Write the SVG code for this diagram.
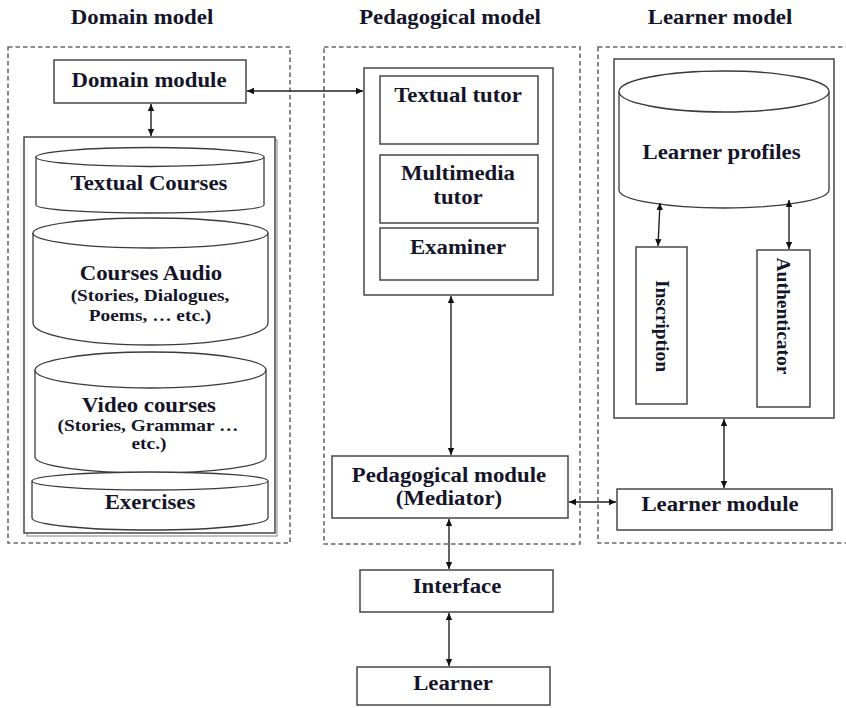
<svg xmlns="http://www.w3.org/2000/svg" width="846" height="708" viewBox="0 0 846 708">
<style>
text{font-family:"Liberation Serif","Times New Roman",serif;font-weight:bold;fill:#15152a;text-anchor:middle}
.t{font-size:20px}
.s{font-size:17px}
.dash{fill:none;stroke:#6a6a6a;stroke-width:1.6;stroke-dasharray:4.5 3}
.box{fill:#fff;stroke:#3a3a3a;stroke-width:1.4}
.cyl{fill:#fff;stroke:#3a3a3a;stroke-width:1.3}
.con{fill:none;stroke:#222;stroke-width:1.4;marker-start:url(#ah);marker-end:url(#ah)}
</style>
<defs>
<marker id="ah" markerWidth="8" markerHeight="8" refX="7" refY="4" orient="auto-start-reverse" markerUnits="userSpaceOnUse">
<path d="M0,0.8 L7,4 L0,7.2 Z" fill="#111"/>
</marker>
</defs>
<rect width="846" height="708" fill="#fff"/>

<g id="titles">
<text class="t" transform="translate(142 24) scale(1.14 1)">Domain model</text>
<text class="t" transform="translate(450 24) scale(1.14 1)">Pedagogical model</text>
<text class="t" transform="translate(720 24) scale(1.14 1)">Learner model</text>
</g>

<g id="domain-model">
<rect class="dash" x="8" y="47" width="282" height="496"/>
</g>
<g id="pedagogical-model">
<rect class="dash" x="324" y="47" width="256" height="497"/>
</g>
<g id="learner-model">
<rect class="dash" x="598" y="47" width="260" height="496"/>
</g>

<g id="domain-module">
<rect class="box" x="54" y="60" width="192" height="43"/>
<text class="t" transform="translate(149 87) scale(1.14 1)">Domain module</text>
</g>

<g id="domain-store">
<rect x="27" y="140" width="250" height="396" fill="none" stroke="#999" stroke-width="1.2"/>
<rect class="box" x="24" y="137" width="251" height="396"/>
</g>

<g id="textual-courses">
<path class="cyl" d="M36,157 A114,9.5 0 0 1 264,157 L264,205 A114,8 0 0 1 36,205 Z"/>
<path class="cyl" d="M36,157 A114,9.5 0 0 0 264,157"/>
<text class="t" transform="translate(149 190) scale(1.14 1)">Textual Courses</text>
</g>

<g id="courses-audio">
<path class="cyl" d="M33,233 A117.5,15 0 0 1 268,233 L268,323 A117.5,22 0 0 1 33,323 Z"/>
<path class="cyl" d="M33,233 A117.5,15 0 0 0 268,233"/>
<text class="t" transform="translate(151 280) scale(1.14 1)">Courses Audio</text>
<text class="s" transform="translate(150 301) scale(1.14 1)">(Stories, Dialogues,</text>
<text class="s" transform="translate(150 321) scale(1.14 1)">Poems, … etc.)</text>
</g>

<g id="video-courses">
<path class="cyl" d="M35,370 A115.5,18 0 0 1 266,370 L266,457 A115.5,16 0 0 1 35,457 Z"/>
<path class="cyl" d="M35,370 A115.5,18 0 0 0 266,370"/>
<text class="t" transform="translate(149 412) scale(1.14 1)">Video courses</text>
<text class="s" transform="translate(148 431) scale(1.14 1)">(Stories, Grammar …</text>
<text class="s" transform="translate(149 449) scale(1.14 1)">etc.)</text>
</g>

<g id="exercises">
<path class="cyl" d="M32,481 A118,9 0 0 1 268,481 L268,518 A118,12 0 0 1 32,518 Z"/>
<path class="cyl" d="M32,481 A118,9 0 0 0 268,481"/>
<text class="t" transform="translate(150 509) scale(1.14 1)">Exercises</text>
</g>

<g id="tutors">
<rect class="box" x="364" y="68" width="189" height="227"/>
</g>
<g id="textual-tutor">
<rect class="box" x="380" y="76" width="158" height="68"/>
<text class="t" transform="translate(458 102) scale(1.14 1)">Textual tutor</text>
</g>
<g id="multimedia-tutor">
<rect class="box" x="380" y="155" width="158" height="68"/>
<text class="t" transform="translate(458 180) scale(1.14 1)">Multimedia</text>
<text class="t" transform="translate(458 204) scale(1.14 1)">tutor</text>
</g>
<g id="examiner">
<rect class="box" x="380" y="228" width="158" height="52"/>
<text class="t" transform="translate(458 254) scale(1.14 1)">Examiner</text>
</g>

<g id="pedagogical-module">
<rect class="box" x="332" y="456" width="236" height="62"/>
<text class="t" transform="translate(449 482) scale(1.14 1)">Pedagogical module</text>
<text class="t" transform="translate(449 505) scale(1.14 1)">(Mediator)</text>
</g>

<g id="interface">
<rect class="box" x="360" y="570" width="193" height="42"/>
<text class="t" transform="translate(457 593) scale(1.14 1)">Interface</text>
</g>

<g id="learner">
<rect class="box" x="357" y="667" width="193" height="38"/>
<text class="t" transform="translate(453 690) scale(1.14 1)">Learner</text>
</g>

<g id="learner-store">
<rect class="box" x="614" y="59" width="220" height="359"/>
</g>

<g id="learner-profiles">
<path class="cyl" d="M619,91.5 A105,20.5 0 0 1 829,91.5 L829,190 A105,18 0 0 1 619,190 Z"/>
<path class="cyl" d="M619,91.5 A105,20.5 0 0 0 829,91.5"/>
<text class="t" transform="translate(721.5 159) scale(1.14 1)">Learner profiles</text>
</g>

<g id="inscription">
<rect class="box" x="636" y="247" width="51" height="157"/>
<text class="t" transform="translate(656 326) rotate(90)" style="font-size:19.5px">Inscription</text>
</g>

<g id="authenticator">
<rect class="box" x="757" y="250" width="53" height="157"/>
<text class="t" transform="translate(777 316) rotate(90)" style="font-size:19.5px">Authenticator</text>
</g>

<g id="learner-module">
<rect class="box" x="617" y="489" width="215" height="41"/>
<text class="t" transform="translate(720 511) scale(1.14 1)">Learner module</text>
</g>

<g id="connectors">
<line class="con" x1="151" y1="104" x2="151" y2="136"/>
<line class="con" x1="247" y1="91" x2="363" y2="91"/>
<line class="con" x1="451" y1="296" x2="451" y2="455"/>
<line class="con" x1="449" y1="519" x2="449" y2="569"/>
<line class="con" x1="449" y1="613" x2="449" y2="666"/>
<line class="con" x1="569" y1="502" x2="616" y2="502"/>
<line class="con" x1="724" y1="419" x2="724" y2="488"/>
<line class="con" x1="660" y1="203" x2="658" y2="246"/>
<line class="con" x1="789" y1="200" x2="789" y2="249"/>
</g>
</svg>
